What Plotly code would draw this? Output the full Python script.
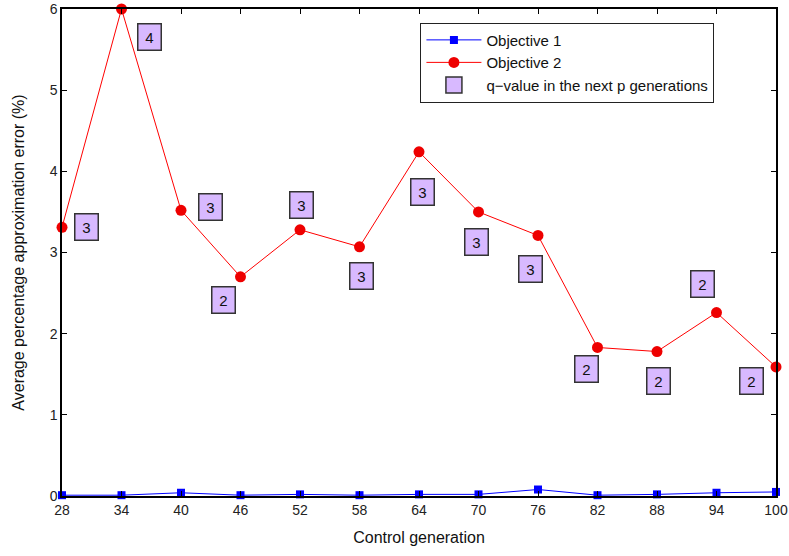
import plotly.graph_objects as go

# Control generations on the x axis
generations = [28, 34, 40, 46, 52, 58, 64, 70, 76, 82, 88, 94, 100]

# Average percentage approximation error (%) per objective
objective_1 = [0.01, 0.01, 0.04, 0.01, 0.02, 0.01, 0.02, 0.02, 0.08, 0.01, 0.02, 0.04, 0.05]
objective_2 = [3.31, 6.00, 3.52, 2.70, 3.28, 3.07, 4.24, 3.50, 3.21, 1.83, 1.78, 2.26, 1.59]

# q-value boxes: label and the position where each box sits
q_values = [3, 4, 3, 2, 3, 3, 3, 3, 3, 2, 2, 2, 2]
q_box_x = [30.5, 36.8, 43.0, 44.3, 52.2, 58.2, 64.4, 69.8, 75.2, 80.9, 88.2, 92.6, 97.5]
q_box_y = [3.32, 5.66, 3.56, 2.42, 3.58, 2.71, 3.74, 3.13, 2.80, 1.56, 1.42, 2.61, 1.42]

x_ticks = list(range(28, 101, 6))
y_ticks = [0, 1, 2, 3, 4, 5, 6]

BOX_FILL = "#d8b9ff"
BOX_EDGE = "#333333"
FONT = "Liberation Sans, Arial, sans-serif"

fig = go.Figure()

fig.add_trace(go.Scatter(
    x=generations, y=objective_1, mode="lines+markers", name="Objective 1",
    line=dict(color="#0000ff", width=1),
    marker=dict(symbol="square", size=8, color="#0000ff"),
    cliponaxis=False,
))
fig.add_trace(go.Scatter(
    x=generations, y=objective_2, mode="lines+markers", name="Objective 2",
    line=dict(color="#ff0000", width=1),
    marker=dict(symbol="circle", size=11, color="#ee0000"),
    cliponaxis=False,
))
# legend entry for the q-value boxes
fig.add_trace(go.Scatter(
    x=[None], y=[None], mode="markers", name="q\u2212value in the next p generations",
    marker=dict(symbol="square", size=16, color=BOX_FILL, line=dict(color=BOX_EDGE, width=1.5)),
))

for qx, qy, q in zip(q_box_x, q_box_y, q_values):
    fig.add_annotation(
        x=qx, y=qy, xref="x", yref="y", text=str(q), showarrow=False,
        font=dict(family=FONT, size=15, color="#111111"),
        bgcolor=BOX_FILL, bordercolor=BOX_EDGE, borderwidth=1.5, borderpad=1,
        width=20, height=23,
    )

axis_common = dict(
    showgrid=False, zeroline=False, showline=True, linecolor="black", linewidth=1.5,
    mirror="ticks", ticks="inside", ticklen=5, tickcolor="black", tickwidth=1,
    tickfont=dict(family=FONT, size=14, color="#222222"),
    ticklabeloverflow="allow", automargin=False,
)

fig.update_xaxes(
    range=[28, 100], tickvals=x_ticks, ticktext=[str(v) for v in x_ticks],
    title=dict(text="Control generation", font=dict(family=FONT, size=16, color="#111111"), standoff=15),
    **axis_common,
)
fig.update_yaxes(
    range=[0, 6], tickvals=y_ticks, ticktext=[str(v) for v in y_ticks],
    title=dict(text="Average percentage approximation error (%)", font=dict(family=FONT, size=16, color="#111111"), standoff=21),
    **axis_common,
)

fig.update_layout(
    width=789, height=556,
    margin=dict(l=62, r=13, t=9, b=60),
    paper_bgcolor="white", plot_bgcolor="white",
    font=dict(family=FONT, size=14, color="#111111"),
    legend=dict(
        x=0.502, y=0.972, xanchor="left", yanchor="top",
        bgcolor="white", bordercolor="#222222", borderwidth=1,
        font=dict(family=FONT, size=15, color="#111111"),
        itemwidth=55,
        entrywidth=240, entrywidthmode="pixels",
    ),
    showlegend=True,
)

fig.write_html("out.html")
